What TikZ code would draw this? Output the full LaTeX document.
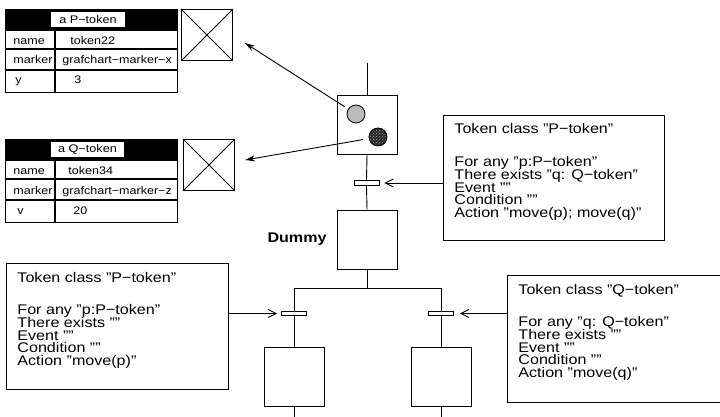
\documentclass[tikz,border=0pt]{standalone}
\usepackage{fontspec}
\setmainfont{Liberation Sans}[FakeStretch=1.15]
\usetikzlibrary{arrows.meta,patterns}
\begin{document}
\begin{tikzpicture}[x=1pt,y=-1pt,line width=0.9pt,
  stepbox/.style={draw,fill=white,minimum width=60pt,minimum height=59pt,inner sep=0},
  transbar/.style={draw,fill=white,minimum width=25pt,minimum height=4.5pt,inner sep=0,line width=0.8pt},
  classbox/.style={draw,anchor=north west,inner sep=0},
  ctext/.style={anchor=base west,inner sep=0,font=\fontsize{14}{14}\selectfont},
  tabtext/.style={anchor=base west,inner sep=0,font=\fontsize{10.9}{10.9}\selectfont},
  tabline/.style={line width=1.1pt},
  xbox/.style={draw,anchor=north west,minimum width=51pt,minimum height=51pt,inner sep=0},
  barb/.style={-{Straight Barb[length=8pt,width=8pt]}},
  tokarrow/.style={-{Stealth[length=10pt,width=6pt]}},
]
\useasboundingbox (0,0) rectangle (720,417);
\clip (0,0) rectangle (720,417);

% ---------- token tables ----------
% table 1
\node[draw,tabline,anchor=north west,minimum width=172pt,minimum height=83pt,inner sep=0] (tab1) at (5,9) {};
\fill (5,9) rectangle (177,31);
\node[fill=white,minimum width=74pt,minimum height=15pt,inner sep=0,font=\fontsize{11}{11}\selectfont] (tab1h) at (88,19.5) {a P−token};
\draw[tabline] (5,49) -- (177,49) (5,70) -- (177,70) (55,31) -- (55,92);
\node[tabtext] (tab1a) at (13,45) {name};
\node[tabtext] (tab1b) at (70,45) {token22};
\node[tabtext] (tab1c) at (13,64) {marker};
\node[tabtext] (tab1d) at (62,64) {grafchart−marker−x};
\node[tabtext] (tab1e) at (15,84) {y};
\node[tabtext] (tab1f) at (74,84) {3};
\node[xbox] (xb1) at (181,9) {};
\draw (xb1.north west) -- (xb1.south east) (xb1.north east) -- (xb1.south west);

% table 2
\node[draw,tabline,anchor=north west,minimum width=172pt,minimum height=83pt,inner sep=0] (tab2) at (5,139) {};
\fill (5,139) rectangle (177,161);
\node[fill=white,minimum width=73pt,minimum height=15pt,inner sep=0,font=\fontsize{11}{11}\selectfont] (tab2h) at (87.5,149.5) {a Q−token};
\draw[tabline] (5,179) -- (177,179) (5,200) -- (177,200) (55,161) -- (55,222);
\node[tabtext] (tab2a) at (13,175) {name};
\node[tabtext] (tab2b) at (68,175) {token34};
\node[tabtext] (tab2c) at (13,194) {marker};
\node[tabtext] (tab2d) at (62,194) {grafchart−marker−z};
\node[tabtext] (tab2e) at (17,214) {v};
\node[tabtext] (tab2f) at (73,214) {20};
\node[xbox] (xb2) at (183,139) {};
\draw (xb2.north west) -- (xb2.south east) (xb2.north east) -- (xb2.south west);

% ---------- Grafchart ----------
\coordinate (top) at (367,63);
\node[stepbox] (s1) at (367,124.5) {};
\node[transbar] (t1) at (366.5,183) {};
\node[stepbox] (s2) at (367,239.5) {};
\node[anchor=base east,inner sep=0,font=\fontsize{14}{14}\selectfont\bfseries] (dummy) at (327,242) {Dummy};
\coordinate (j) at (367,288);
\coordinate (jl) at (294,288);
\coordinate (jr) at (441,288);
\node[transbar] (t2) at (294,313.5) {};
\node[transbar] (t3) at (441,313.5) {};
\node[stepbox] (s3) at (294,376.5) {};
\node[stepbox] (s4) at (441,376.5) {};
\coordinate (b3) at (294,420);
\coordinate (b4) at (441,420);

\draw (top) -- (s1.north);
\draw (s1.south) -- (t1.north);
\draw (t1.south) -- (s2.north);
\draw (s2.south) -- (j);
\draw (jl) -- (jr);
\draw (jl) -- (t2.north);
\draw (t2.south) -- (s3.north);
\draw (s3.south) -- (b3);
\draw (jr) -- (t3.north);
\draw (t3.south) -- (s4.north);
\draw (s4.south) -- (b4);

% tokens in step
\node[circle,draw,fill=black!27,minimum size=18pt,inner sep=0,line width=0.8pt] (ptok) at (356,114) {};
\node[circle,draw,fill=black!85,minimum size=18pt,inner sep=0,line width=0.8pt] (qtok) at (378,137) {};
\fill[pattern=crosshatch dots,pattern color=white!70!black] (qtok.center) circle (8pt);
\coordinate (a1) at (245,43);
\coordinate (a2) at (245,160);
\draw[tokarrow,shorten <=4pt] (ptok) -- (a1);
\draw[tokarrow,shorten <=6pt] (qtok) -- (a2);

% ---------- class boxes ----------
\node[classbox,minimum width=221pt,minimum height=125pt] (c1) at (443,115) {};
\node[ctext] (c1t) at (454,134) {Token class "P−token"};
\foreach \t [count=\i] in {{For any "p:P−token"},{There exists "q: Q−token"},{Event ""},{Condition ""},{Action "move(p); move(q)"}}
  \node[ctext] (c1l\i) at (454,{166.7+12.75*(\i-1)}) {\t};

\node[classbox,minimum width=222pt,minimum height=126pt] (c2) at (6,263) {};
\node[ctext] (c2t) at (17,282) {Token class "P−token"};
\foreach \t [count=\i] in {{For any "p:P−token"},{There exists ""},{Event ""},{Condition ""},{Action "move(p)"}}
  \node[ctext] (c2l\i) at (17,{314.7+12.75*(\i-1)}) {\t};

\node[classbox,minimum width=222pt,minimum height=127pt] (c3) at (507,275) {};
\node[ctext] (c3t) at (518,294) {Token class "Q−token"};
\foreach \t [count=\i] in {{For any "q: Q−token"},{There exists ""},{Event ""},{Condition ""},{Action "move(q)"}}
  \node[ctext] (c3l\i) at (518,{326.7+12.75*(\i-1)}) {\t};

% arrows to transitions
\draw[barb] (c1.west |- t1.center) -- ([xshift=5pt]t1.east);
\draw[barb] (c2.east |- t2.center) -- ([xshift=-4pt]t2.west);
\draw[barb] (c3.west |- t3.center) -- ([xshift=6pt]t3.east);
\end{tikzpicture}
\end{document}
